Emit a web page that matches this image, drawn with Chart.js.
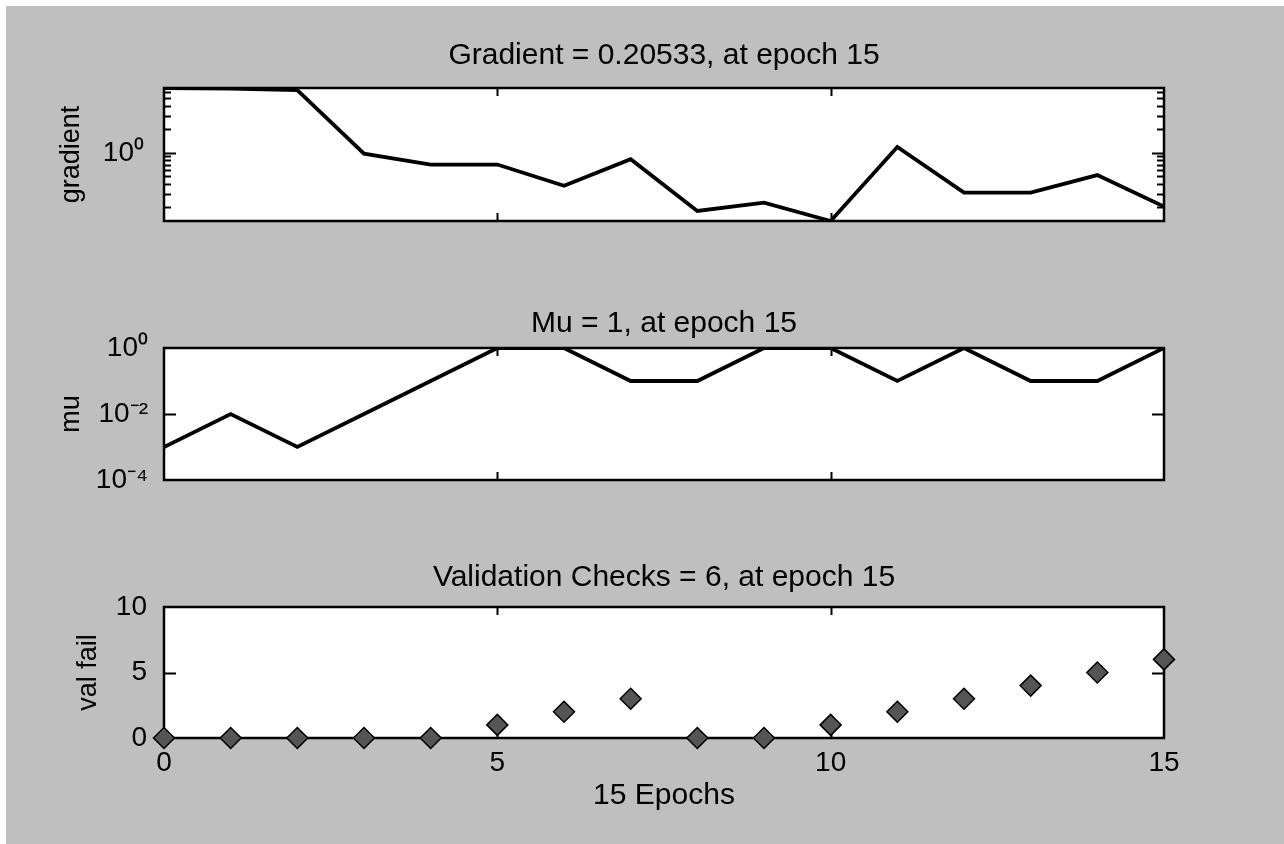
<!DOCTYPE html>
<html>
<head>
<meta charset="utf-8">
<script src="https://cdn.jsdelivr.net/npm/chart.js@4.4.1/dist/chart.umd.min.js"></script>
<style>
  html, body { margin: 0; padding: 0; background: #fff; }
  #fig { position: relative; width: 1284px; height: 844px; overflow: hidden; }
  #bg { position: absolute; left: 6px; top: 6px; right: 0; bottom: 0; background: #bfbfbf; }
  canvas { position: absolute; left: 0; }
</style>
</head>
<body>
<div id="fig">
  <div id="bg"></div>
  <canvas id="c1" width="1284" height="250" style="top:0px"></canvas>
  <canvas id="c2" width="1284" height="270" style="top:250px"></canvas>
  <canvas id="c3" width="1284" height="324" style="top:520px"></canvas>
</div>
<script>
// training record
const epochs   = [0, 1, 2, 3, 4, 5, 6, 7, 8, 9, 10, 11, 12, 13, 14, 15];
const gradient = [6.8, 6.7, 6.4, 0.98, 0.71, 0.71, 0.38, 0.83, 0.18, 0.23, 0.134, 1.19, 0.31, 0.31, 0.52, 0.20533];
const mu       = [0.001, 0.01, 0.001, 0.01, 0.1, 1, 1, 0.1, 0.1, 1, 1, 0.1, 1, 0.1, 0.1, 1];
const valFail  = [0, 0, 0, 0, 0, 1, 2, 3, 0, 0, 1, 2, 3, 4, 5, 6];

// tick values / labels
const xTickVals      = [0, 5, 10, 15];
const gradTickVals   = [1];
const gradTickLabels = ['10\u2070'];
const gradMinorVals  = [0.2, 0.3, 0.4, 0.5, 0.6, 0.7, 0.8, 0.9, 2, 3, 4, 5, 6];
const muTickVals     = [1e-4, 1e-2, 1];
const muTickLabels   = ['10\u207B\u2074', '10\u207B\u00B2', '10\u2070'];
const valTickVals    = [0, 5, 10];

Chart.defaults.font.family = '"Liberation Sans", Arial, Helvetica, sans-serif';
Chart.defaults.font.size = 28;
Chart.defaults.color = '#000';

const toPoints = vals => epochs.map((e, i) => ({ x: e, y: vals[i] }));

// white axes box, black frame and inward ticks like the original figure
const matlabAxes = {
  id: 'matlabAxes',
  beforeDatasetsDraw(chart, args, opts) {
    const { ctx, chartArea: a, scales } = chart;
    const x = scales.x, y = scales.y;
    ctx.save();
    ctx.fillStyle = '#fff';
    ctx.fillRect(a.left, a.top, a.width, a.height);
    ctx.strokeStyle = '#000';
    ctx.lineWidth = 2;
    ctx.beginPath();
    (opts.xTicks || []).forEach(v => {
      const px = Math.round(x.getPixelForValue(v)) + 0.5;
      ctx.moveTo(px, a.bottom); ctx.lineTo(px, a.bottom - 8);
      ctx.moveTo(px, a.top); ctx.lineTo(px, a.top + 8);
    });
    (opts.yMajor || []).forEach(v => {
      const py = Math.round(y.getPixelForValue(v)) + 0.5;
      ctx.moveTo(a.left, py); ctx.lineTo(a.left + 12, py);
      ctx.moveTo(a.right, py); ctx.lineTo(a.right - 12, py);
    });
    (opts.yMinor || []).forEach(v => {
      const py = Math.round(y.getPixelForValue(v)) + 0.5;
      ctx.moveTo(a.left, py); ctx.lineTo(a.left + 7, py);
      ctx.moveTo(a.right, py); ctx.lineTo(a.right - 7, py);
    });
    ctx.stroke();
    ctx.lineWidth = 2.5;
    ctx.strokeRect(a.left, a.top, a.width, a.height);
    ctx.restore();
  }
};

function panel(id, cfg) {
  const yScale = Object.assign({
    grid: { display: false },
    border: { display: false },
    afterFit: s => { s.width = 164; }
  }, cfg.y);
  const xScale = Object.assign({
    type: 'linear', min: 0, max: 15,
    grid: { display: false },
    border: { display: false }
  }, cfg.x);
  return new Chart(document.getElementById(id), {
    type: 'line',
    data: { datasets: [cfg.dataset] },
    options: {
      responsive: false,
      animation: false,
      layout: { padding: cfg.padding },
      plugins: {
        legend: { display: false },
        tooltip: { enabled: false },
        title: {
          display: true, text: cfg.title, fullSize: false,
          font: { size: 30, weight: 'normal' },
          padding: { top: 0, bottom: cfg.titleGap }
        },
        matlabAxes: cfg.ticks
      },
      scales: { x: xScale, y: yScale }
    },
    plugins: [matlabAxes]
  });
}

// gradient
panel('c1', {
  title: 'Gradient = 0.20533, at epoch 15',
  titleGap: 14,
  padding: { top: 38, left: 0, right: 120, bottom: 29 },
  dataset: { data: toPoints(gradient), borderColor: '#000', borderWidth: 3.8, pointRadius: 0, tension: 0 },
  x: { display: false },
  y: {
    type: 'logarithmic', min: 0.134, max: 6.8, bounds: 'data',
    afterBuildTicks: s => { s.ticks = gradTickVals.map(v => ({ value: v })); },
    ticks: { padding: 12, callback: v => gradTickLabels[gradTickVals.indexOf(v)] },
    title: { display: true, text: 'gradient', font: { size: 27 }, padding: { top: 55, bottom: 0 } }
  },
  ticks: { xTicks: [5, 10], yMajor: gradTickVals, yMinor: gradMinorVals }
});

// mu
panel('c2', {
  title: 'Mu = 1, at epoch 15',
  titleGap: 6,
  padding: { top: 56, left: 0, right: 120, bottom: 40 },
  dataset: { data: toPoints(mu), borderColor: '#000', borderWidth: 3.8, pointRadius: 0, tension: 0 },
  x: { display: false },
  y: {
    type: 'logarithmic', min: 1e-4, max: 1, bounds: 'data',
    afterBuildTicks: s => { s.ticks = muTickVals.map(v => ({ value: v })); },
    ticks: { padding: 8, callback: v => muTickLabels[muTickVals.indexOf(v)] },
    title: { display: true, text: 'mu', font: { size: 27 }, padding: { top: 55, bottom: 0 } }
  },
  ticks: { xTicks: [5, 10], yMajor: [1e-2] }
});

// validation checks
panel('c3', {
  title: 'Validation Checks = 6, at epoch 15',
  titleGap: 11,
  padding: { top: 40, left: 0, right: 120, bottom: 16 },
  dataset: {
    data: toPoints(valFail), showLine: false, clip: false,
    pointStyle: 'rectRot', pointRadius: 10.5,
    pointBackgroundColor: '#555', pointBorderColor: '#000', pointBorderWidth: 1.5
  },
  x: {
    afterBuildTicks: s => { s.ticks = xTickVals.map(v => ({ value: v })); },
    ticks: { padding: 0, maxRotation: 0 },
    title: { display: true, text: '15 Epochs', font: { size: 30 }, padding: { top: 0, bottom: 14 } },
    afterFit: s => { s.height = 90; }
  },
  y: {
    type: 'linear', min: 0, max: 10,
    afterBuildTicks: s => { s.ticks = valTickVals.map(v => ({ value: v })); },
    ticks: { padding: 9 },
    title: { display: true, text: 'val fail', font: { size: 27 }, padding: { top: 72, bottom: 0 } }
  },
  ticks: { xTicks: [5, 10], yMajor: [5] }
});
</script>
</body>
</html>
